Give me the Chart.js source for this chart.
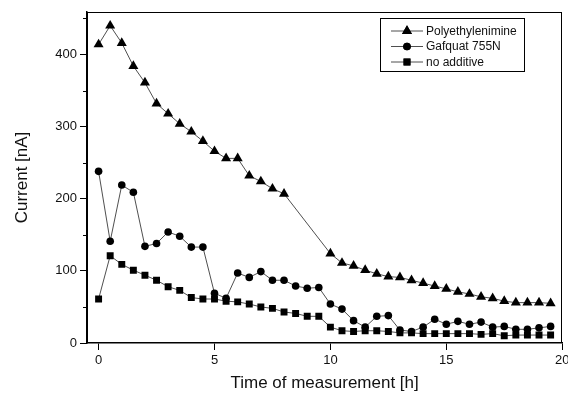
<!DOCTYPE html>
<html>
<head>
<meta charset="utf-8">
<script src="https://cdn.jsdelivr.net/npm/chart.js@4.4.0/dist/chart.umd.min.js"></script>
<style>
  html, body { margin: 0; padding: 0; background: #fff; }
  canvas { display: block; }
</style>
</head>
<body>
<canvas id="chart" width="568" height="394"></canvas>
<script>
// measurement times [h]
const timesPei = [0, 0.5, 1, 1.5, 2, 2.5, 3, 3.5, 4, 4.5, 5, 5.5, 6, 6.5, 7, 7.5, 8,
  10, 10.5, 11, 11.5, 12, 12.5, 13, 13.5, 14, 14.5, 15, 15.5, 16, 16.5, 17, 17.5, 18, 18.5, 19, 19.5];
const timesAll = [0, 0.5, 1, 1.5, 2, 2.5, 3, 3.5, 4, 4.5, 5, 5.5, 6, 6.5, 7, 7.5, 8, 8.5, 9, 9.5,
  10, 10.5, 11, 11.5, 12, 12.5, 13, 13.5, 14, 14.5, 15, 15.5, 16, 16.5, 17, 17.5, 18, 18.5, 19, 19.5];

// current [nA]
const polyethylenimine = [414, 440, 416, 384, 361, 332, 318, 304, 293, 280, 266, 256, 256, 232, 224, 214, 207,
  124, 111, 107, 101, 96, 92, 91, 87, 83, 79, 75, 71, 68, 64, 62, 58, 56, 56, 56, 55];
const gafquat = [238, 141, 219, 209, 134, 138, 154, 148, 133, 133, 69, 62, 97, 91, 99, 87, 87, 79, 76, 77,
  54, 47, 31, 22, 37, 38, 18, 16, 22, 33, 26, 30, 26, 29, 22, 23, 19, 19, 21, 23];
const noAdditive = [61, 121, 109, 101, 94, 87, 78, 73, 63, 61, 61, 58, 57, 54, 50, 48, 43, 41, 37, 37,
  22, 17, 16, 17, 17, 16, 14, 14, 13, 13, 13, 13, 13, 12, 13, 10, 11, 11, 11, 11];

const seriesNames = ['Polyethylenimine', 'Gafquat 755N', 'no additive'];
const xTicks = [0, 5, 10, 15, 20];
const yTicks = [0, 100, 200, 300, 400];
const yMinorTicks = [50, 150, 250, 350, 450];

const FONT = "'Liberation Sans', Arial, Helvetica, sans-serif";

function pts(xs, ys) {
  return xs.map((x, i) => ({ x, y: ys[i] }));
}

function mkSet(label, data, style, radius) {
  return {
    label,
    data,
    borderColor: '#222',
    borderWidth: 0.8,
    backgroundColor: '#000',
    pointBackgroundColor: '#000',
    pointBorderColor: '#000',
    pointBorderWidth: 0,
    pointStyle: style,
    pointRadius: radius,
    showLine: true,
    tension: 0,
  };
}

const frame = {
  id: 'frame',
  afterDraw(chart) {
    const { ctx, chartArea: a, scales } = chart;
    ctx.save();
    // box round the plot
    ctx.strokeStyle = '#000';
    ctx.lineWidth = 1;
    const l = Math.round(a.left) + 0.5, t = Math.round(a.top) + 0.5;
    const r = Math.round(a.right) - 0.5, b = Math.round(a.bottom) - 0.5;
    ctx.strokeRect(l, t, r - l, b - t);
    // short minor ticks on the y axis
    yMinorTicks.forEach((v) => {
      const y = Math.round(scales.y.getPixelForValue(v)) + 0.5;
      ctx.beginPath();
      ctx.moveTo(a.left - 4, y);
      ctx.lineTo(a.left, y);
      ctx.stroke();
    });
    // legend
    const bx = 380, by = 18, bw = 144, bh = 53;
    ctx.fillStyle = '#fff';
    ctx.fillRect(bx, by, bw, bh);
    ctx.strokeRect(bx + 0.5, by + 0.5, bw, bh);
    ctx.font = '12px ' + FONT;
    ctx.textBaseline = 'middle';
    chart.data.datasets.forEach((ds, i) => {
      const y = by + 13 + i * 15.5;
      ctx.strokeStyle = '#222';
      ctx.lineWidth = 0.8;
      ctx.beginPath();
      ctx.moveTo(391, y);
      ctx.lineTo(423, y);
      ctx.stroke();
      ctx.fillStyle = '#000';
      Chart.helpers.drawPoint(ctx, { pointStyle: ds.pointStyle, radius: ds.pointRadius, rotation: 0, borderWidth: 0 }, 407, y);
      ctx.fill();
      ctx.fillStyle = '#111';
      ctx.fillText(ds.label, 426, y + 0.5);
    });
    ctx.restore();
  },
};

new Chart(document.getElementById('chart').getContext('2d'), {
  type: 'scatter',
  data: {
    datasets: [
      mkSet(seriesNames[0], pts(timesPei, polyethylenimine), 'triangle', 5.8),
      mkSet(seriesNames[1], pts(timesAll, gafquat), 'circle', 3.8),
      mkSet(seriesNames[2], pts(timesAll, noAdditive), 'rect', 4.9),
    ],
  },
  options: {
    responsive: false,
    animation: false,
    layout: { padding: { top: 12, right: 5, left: 0, bottom: 0 } },
    plugins: { legend: { display: false }, tooltip: { enabled: false } },
    scales: {
      x: {
        type: 'linear',
        min: -0.5,
        max: 20,
        afterBuildTicks: (s) => { s.ticks = xTicks.map((v) => ({ value: v })); },
        afterFit: (s) => { s.height = 51; s.paddingLeft = 0; s.paddingRight = 0; },
        grid: { drawOnChartArea: false, drawTicks: true, tickLength: 7, tickColor: '#000', tickWidth: 1 },
        border: { display: true, color: '#000', width: 1.5 },
        ticks: { color: '#111', padding: 3, maxRotation: 0, font: { family: FONT, size: 13 } },
        title: {
          display: true,
          text: 'Time of measurement [h]',
          color: '#111',
          font: { family: FONT, size: 17 },
          padding: { top: 0, bottom: 0 },
        },
      },
      y: {
        min: 0,
        max: 459,
        afterBuildTicks: (s) => { s.ticks = yTicks.map((v) => ({ value: v })); },
        afterFit: (s) => { s.width = 87; s.paddingTop = 0; s.paddingBottom = 0; },
        grid: { drawOnChartArea: false, drawTicks: true, tickLength: 7, tickColor: '#000', tickWidth: 1 },
        border: { display: true, color: '#000', width: 1.5 },
        ticks: { color: '#111', padding: 3, font: { family: FONT, size: 13 } },
        title: {
          display: true,
          text: 'Current [nA]',
          color: '#111',
          font: { family: FONT, size: 17 },
          padding: { top: 12, bottom: 0 },
        },
      },
    },
  },
  plugins: [frame],
});
</script>
</body>
</html>
